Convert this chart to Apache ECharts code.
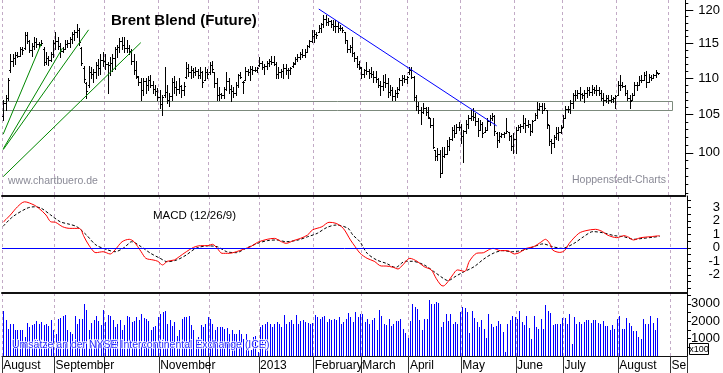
<!DOCTYPE html>
<html><head><meta charset="utf-8">
<script src="https://cdn.jsdelivr.net/npm/echarts@6/dist/echarts.min.js"></script>
<style>html,body{margin:0;padding:0;background:#fff}#c{width:723px;height:373px}</style>
</head><body><div id="c"></div>
<script>
// ---------- DATA ----------
const monthNames = ['2012-08','2012-09','2012-10','2012-11','2012-12','2013-01','2013-02','2013-03','2013-04','2013-05','2013-06','2013-07','2013-08','2013-09'];
const monthLabels = ['August','September','','November','','2013','February','March','April','May','June','July','August','Se'];
const monthBarCounts = [22,21,23,21,21,23,20,20,22,23,20,23,22,7];

const highs = [
107.0,107.7,110.0,113.4,113.4,113.7,113.7,114.4,114.5,116.7,
116.6,115.5,115.1,115.9,115.8,115.2,115.5,114.4,113.8,113.1,
113.7,115.5,116.6,115.9,115.1,114.5,115.5,115.5,115.9,116.7,
117.0,117.9,117.3,114.5,111.7,109.5,111.7,111.6,111.3,112.3,
112.7,113.4,113.7,113.4,112.3,113.0,113.4,114.5,114.8,115.8,
115.9,115.9,115.5,114.8,114.1,113.4,112.4,110.3,110.0,110.0,
110.0,110.3,110.4,109.6,109.1,108.6,108.3,107.7,111.6,109.1,
108.0,110.0,110.3,109.6,110.0,109.1,109.4,112.3,112.0,111.7,
111.5,111.6,111.3,111.6,111.0,111.6,111.3,112.3,112.4,110.9,
110.0,108.7,107.9,108.7,110.9,110.0,109.1,108.7,109.4,110.6,
110.9,109.6,111.6,111.3,111.7,111.7,111.6,111.6,113.0,112.4,
112.0,112.4,112.7,113.1,113.1,112.3,111.6,111.3,112.0,112.0,
111.5,111.6,112.3,113.0,113.4,113.8,114.1,114.1,114.8,115.5,
117.0,117.0,116.7,117.7,118.0,119.2,119.2,118.8,118.5,118.5,
118.5,118.2,117.7,117.4,116.7,115.5,114.8,115.9,113.7,113.1,
112.4,111.6,111.3,112.3,111.3,111.6,111.0,111.0,110.0,109.6,
110.4,110.6,110.0,109.1,108.8,108.3,108.7,110.0,110.4,110.4,
110.3,111.6,111.6,110.3,107.7,106.7,106.0,106.6,106.0,106.0,
104.6,104.6,100.4,100.6,100.4,100.7,100.7,101.6,102.0,103.4,
103.6,103.8,104.0,103.8,102.9,104.3,104.9,105.6,105.9,105.2,
104.5,104.3,104.0,103.4,104.6,104.9,105.2,104.9,102.7,102.7,
102.5,102.7,104.5,102.7,102.3,102.5,103.4,103.6,103.8,104.9,
104.6,104.3,103.8,104.3,105.2,106.7,106.6,106.6,106.6,105.6,
103.6,101.8,102.3,103.4,103.4,103.6,104.9,106.1,106.1,107.0,
108.0,108.3,108.3,108.8,108.0,108.3,108.7,108.7,109.1,108.8,
109.1,108.7,108.3,107.9,107.7,107.7,107.7,107.4,107.7,109.6,
110.4,109.4,109.1,108.3,107.7,107.9,109.4,109.4,110.3,110.4,
110.9,111.0,110.6,110.4,110.6,111.1,110.7];

const lows = [
104.3,105.6,107.0,110.9,111.7,112.0,113.0,113.1,113.4,114.1,
115.1,113.7,113.1,114.1,114.4,114.5,114.8,111.8,112.0,111.8,
112.4,113.0,114.1,114.1,113.0,113.7,114.1,114.4,114.5,115.1,
115.5,115.9,114.8,111.8,109.4,107.3,108.8,110.0,109.4,110.0,
110.4,110.6,111.7,111.3,107.9,110.4,111.0,111.3,113.0,113.7,
114.1,113.7,113.7,113.4,112.0,110.6,110.0,109.0,107.0,107.7,
108.0,108.3,108.7,108.0,107.7,107.0,105.9,104.9,107.4,106.6,
106.1,107.0,108.0,107.7,107.9,107.4,107.7,110.0,110.3,110.0,
110.1,110.4,110.0,110.0,108.7,109.7,110.0,110.6,110.9,108.8,
107.0,107.0,107.3,107.3,108.3,107.9,106.8,107.4,107.7,108.8,
110.0,108.0,109.7,110.4,109.7,110.6,111.0,110.8,111.7,111.3,
110.6,111.3,111.7,112.0,111.8,110.0,110.0,110.2,110.0,110.6,
110.0,110.6,111.6,112.0,112.4,112.7,113.0,113.0,113.7,114.4,
115.2,115.2,115.8,116.6,116.7,117.4,117.7,117.7,117.4,117.0,
116.6,116.6,117.0,116.7,115.1,113.7,113.7,113.1,112.4,111.6,
111.3,110.0,110.2,110.6,110.0,110.2,109.4,109.4,108.7,107.7,
108.3,108.8,107.4,107.7,107.0,107.0,107.4,108.3,109.1,109.4,
109.3,110.6,110.0,107.0,105.6,105.2,103.8,105.2,104.9,104.5,
103.3,100.6,99.1,99.1,96.9,97.4,99.4,99.8,100.4,101.6,
102.0,102.5,102.9,101.2,98.8,102.5,103.2,104.3,104.3,103.6,
102.2,102.9,102.0,102.7,102.9,103.6,104.3,102.3,100.8,101.4,
102.0,102.0,102.5,101.6,100.4,100.0,100.0,102.9,102.7,103.2,
102.7,103.4,102.3,102.7,104.3,104.6,105.6,105.2,105.6,103.2,
101.0,100.0,100.8,101.8,101.6,102.5,103.4,104.6,105.4,105.2,
105.9,107.0,107.3,107.0,107.3,106.7,107.4,107.7,107.7,107.9,
107.7,107.7,107.0,106.3,106.7,106.6,106.7,106.7,105.9,107.7,
108.3,108.7,107.7,107.0,105.9,107.0,107.7,108.3,109.1,109.4,
109.7,108.8,109.4,109.7,110.0,110.2,110.6];

const opens = [
104.8,106.6,107.3,111.2,112.5,112.9,113.3,113.2,114.1,114.3,
116.2,115.4,114.0,114.6,115.2,114.9,114.9,114.2,112.3,112.8,
112.6,113.4,115.1,115.3,114.6,113.9,114.2,114.9,115.1,115.6,
116.4,116.7,116.9,114.3,111.5,109.3,109.0,110.9,110.6,110.8,
111.8,111.4,112.6,112.4,112.0,111.8,112.2,112.9,114.1,114.5,
115.3,114.7,114.3,114.3,113.9,112.4,111.2,110.2,109.4,108.3,
109.6,109.1,109.7,109.0,108.5,108.2,107.4,106.4,107.6,108.1,
107.0,107.5,109.4,108.7,108.5,108.9,108.3,110.2,111.4,110.9,
111.1,110.8,111.0,110.5,110.9,109.8,110.8,110.8,111.8,110.8,
109.3,107.7,107.8,107.6,108.5,109.6,108.5,108.2,107.9,109.0,
110.5,109.4,109.8,111.0,110.8,111.3,111.2,111.2,111.9,112.2,
111.6,111.7,112.1,112.4,112.3,112.0,110.6,110.9,111.0,111.5,
111.1,111.2,111.7,112.2,112.7,113.0,113.5,113.3,113.8,114.6,
115.3,116.1,116.4,116.7,117.3,117.8,118.6,118.2,118.3,117.9,
117.5,117.6,117.2,117.3,116.6,115.5,114.2,114.4,113.6,112.8,
112.0,111.5,110.6,111.1,111.0,110.7,110.6,110.2,109.9,109.1,
108.9,109.5,109.3,108.1,108.3,107.5,108.0,108.5,109.7,110.0,
109.9,110.8,111.1,110.2,107.4,106.1,105.6,105.3,105.9,105.3,
104.6,103.6,100.3,99.6,99.9,97.5,99.6,99.9,100.9,101.8,
102.9,102.6,103.4,103.3,102.2,102.8,103.8,104.5,104.8,104.7,
104.2,103.0,103.7,102.7,103.0,104.2,104.5,104.8,102.6,101.6,
102.1,102.4,102.5,102.7,102.2,100.9,101.8,103.0,103.3,103.5,
103.9,103.6,103.7,102.8,104.3,105.0,105.8,106.2,105.6,105.6,
103.6,101.5,101.3,102.0,102.5,102.7,103.4,104.6,105.8,105.8,
106.6,107.7,107.6,107.9,107.8,107.7,108.0,108.3,108.1,108.5,
108.4,108.4,108.0,107.3,107.0,107.2,107.0,107.1,107.2,107.7,
109.0,109.1,108.9,108.0,107.3,107.0,107.7,109.0,109.1,109.8,
109.8,110.4,109.4,110.1,110.0,110.5,110.7];

const closes = [
106.6,107.3,109.8,112.5,112.9,113.3,113.2,114.1,114.0,116.2,
115.4,114.0,114.6,115.2,114.9,114.9,115.0,112.3,112.8,112.6,
113.4,115.1,115.3,114.6,113.9,114.2,114.9,115.1,115.6,116.4,
116.7,116.9,115.2,112.1,109.9,108.2,110.9,110.6,110.8,111.8,
111.4,112.6,112.4,112.0,111.8,112.2,112.9,114.1,114.5,115.3,
114.7,114.3,114.3,113.9,112.4,111.2,110.3,109.4,108.3,109.6,
109.1,109.7,109.0,108.5,108.2,107.4,106.4,107.4,108.1,107.0,
107.5,109.4,108.7,108.5,108.9,108.3,108.9,111.4,110.9,111.1,
110.8,111.0,110.5,110.9,109.5,110.8,110.6,111.8,111.3,109.3,
107.7,107.8,107.6,108.5,109.6,108.5,108.2,107.9,109.0,110.5,
110.2,109.4,111.0,110.8,111.3,111.2,111.2,111.4,112.2,111.6,
111.7,112.1,112.4,112.3,112.0,110.6,110.9,111.0,111.5,111.1,
111.2,111.4,112.0,112.7,113.0,113.5,113.3,113.8,114.6,115.3,
116.1,116.4,116.2,117.3,117.8,118.6,118.2,118.3,117.9,117.5,
117.6,117.2,117.3,116.9,115.5,114.2,114.4,113.6,112.8,112.0,
111.6,110.6,111.1,111.0,110.7,110.6,110.2,109.9,109.1,108.9,
109.5,109.3,108.1,108.3,107.5,108.0,107.9,109.7,110.0,109.9,
110.1,111.1,110.2,107.4,106.1,105.6,105.3,105.9,105.3,104.7,
103.6,100.8,99.6,99.9,97.5,99.6,99.9,100.9,101.8,102.9,
102.6,103.4,103.3,102.2,102.8,103.8,104.5,104.8,104.7,104.2,
103.0,103.7,102.6,103.0,104.2,104.5,104.8,102.8,101.6,102.1,
102.4,102.5,102.8,102.2,100.9,101.8,103.0,103.3,103.5,103.9,
103.6,103.7,102.8,104.1,105.0,105.8,106.2,105.6,105.9,103.8,
101.5,101.3,102.0,102.5,102.7,103.2,104.6,105.8,105.8,106.6,
107.7,107.6,107.9,107.8,107.7,108.0,108.3,108.1,108.5,108.4,
108.4,108.0,107.3,107.0,107.2,107.0,107.1,107.2,107.5,109.0,
109.1,108.9,108.0,107.3,106.9,107.7,109.0,109.0,109.8,109.8,
110.4,109.4,110.1,110.0,110.5,110.8,110.7];

// volume in units of 100 contracts
const volumes = [
2590,2050,1570,1860,1820,1475,1475,1475,1475,1090,
1900,1670,1760,1860,1990,1860,1950,1760,1860,1700,
2050,1510,1280,2150,2200,2280,2340,1475,1380,1280,
2280,1860,2150,2150,2970,2620,1475,1900,2050,2280,
2010,1780,2620,1950,2340,2280,2090,1670,1860,2090,
1475,1760,2280,2240,1950,2010,2240,2090,2430,2200,
2150,1990,1475,1670,1700,2240,2430,2530,2590,1860,
2090,1700,1950,1130,1475,2150,2240,2240,2280,1760,
1475,1000,1090,1760,1670,1860,2240,2150,1860,1475,
1670,1670,1670,1570,1630,1280,1510,1280,1280,1510,
1280,1000,1280,520,330,1090,1130,230,1670,1760,
1860,1950,1860,1670,1860,1950,1860,1670,2340,1860,
1950,2050,1860,2340,1860,2010,2050,1950,1900,1860,
1900,2340,2240,2150,2240,2280,1950,2150,2090,2150,
2050,2240,1860,1950,2150,2470,2240,1950,2510,2240,
2430,2400,1950,2150,1860,2050,2200,1475,2620,2280,
1820,1760,2150,1700,1820,2010,2010,2150,1570,1300,
1050,2010,2970,2820,2680,2090,1475,2150,2150,3240,
3010,2970,3080,3050,1670,1950,2400,2010,2400,1860,
1950,1860,2530,2820,2780,2530,1320,2590,2200,1950,
1670,2050,1570,1050,2430,1860,1670,1700,2010,1820,
1380,230,1860,2090,2280,2240,2150,2590,1950,1760,
2280,1610,1000,2280,1670,1570,2150,1570,2910,2590,
2470,1760,1860,1860,1860,2200,2200,1860,2400,710,
2240,1820,1950,1860,1950,2090,2090,1900,2050,2090,
1900,1860,2010,1700,1700,1475,1760,1570,2150,2280,
1570,1570,2180,1900,1700,1440,1440,1090,1000,2110,
1820,1820,2300,1900,1510,2180,null];

// MACD (12/26/9): [bar index, value]
const macdPoints = [[0,1.9],[3,2.43],[6,3.04],[9,3.41],[13,3.17],[15,2.93],[18,2.43],[20,1.93],[22,1.89],[25,1.56],[28,1.44],[32,1.44],[34,0.82],[36,0.2],[39,-0.36],[42,-0.29],[45,-0.46],[47,-0.16],[50,0.45],[53,0.63],[55,0.45],[58,-0.29],[60,-0.78],[63,-0.9],[65,-1.0],[67,-1.27],[69,-1.0],[72,-0.9],[74,-0.66],[77,-0.29],[80,0.03],[83,0.16],[86,0.16],[88,0.26],[90,-0.04],[92,-0.41],[95,-0.41],[98,-0.29],[101,-0.11],[104,0.08],[107,0.41],[111,0.63],[114,0.7],[117,0.45],[119,0.33],[122,0.53],[125,0.7],[128,0.95],[130,1.32],[134,1.56],[137,1.89],[140,1.81],[143,1.44],[146,0.58],[148,0.08],[150,-0.4],[153,-0.78],[156,-1.0],[159,-1.35],[161,-1.35],[164,-1.45],[166,-1.57],[168,-1.27],[171,-0.78],[174,-1.0],[177,-1.4],[180,-1.64],[182,-2.26],[184,-2.76],[185,-2.83],[187,-2.51],[189,-2.01],[191,-1.64],[194,-1.75],[196,-1.0],[199,-0.41],[202,-0.36],[204,-0.16],[206,-0.04],[209,-0.21],[212,-0.21],[215,-0.46],[217,-0.36],[220,-0.04],[223,0.08],[226,0.41],[228,0.63],[230,0.26],[231,-0.16],[234,-0.34],[236,-0.21],[238,0.33],[242,1.07],[245,1.27],[249,1.37],[252,1.2],[254,0.95],[258,0.75],[261,0.9],[263,0.78],[265,0.58],[268,0.75],[272,0.82],[276,0.9]];
const signalPoints = [[0,1.6],[4,2.3],[10,2.93],[13,3.04],[16,2.93],[20,2.43],[24,1.93],[28,1.74],[31,1.56],[35,0.95],[39,0.21],[44,-0.16],[47,-0.29],[51,0.03],[54,0.45],[58,0.08],[62,-0.41],[66,-0.78],[69,-1.03],[73,-0.9],[77,-0.53],[81,-0.04],[86,0.14],[90,0.08],[94,-0.29],[98,-0.36],[102,-0.04],[107,0.33],[111,0.53],[115,0.58],[119,0.45],[124,0.58],[128,0.82],[132,1.07],[136,1.5],[140,1.69],[145,1.44],[147,0.95],[150,0.45],[153,-0.4],[157,-0.9],[161,-1.15],[165,-1.45],[169,-1.0],[172,-1.0],[177,-1.27],[181,-1.75],[185,-2.26],[187,-2.43],[190,-2.14],[193,-1.84],[198,-1.4],[202,-0.84],[206,-0.41],[210,-0.21],[214,-0.29],[219,-0.16],[223,0.08],[227,0.29],[231,0.08],[235,-0.04],[240,0.33],[244,0.82],[248,1.2],[252,1.12],[257,0.9],[261,0.82],[265,0.63],[269,0.7],[273,0.78],[276,0.85]];

// drawn lines: [bar index, price]
const fanLine1 = [[0,102.4],[16,114.9]];
const fanLine2 = [[0,100.5],[25,114.3]];
const fanLine3 = [[0,100.4],[36,117.0]];
const fanLine4 = [[0,97.0],[58,115.1]];
const trendLine = [[133,120.15],[208,103.5]];
const zoneBox = [[282,105.6,106.8]]; // [end index, low, high]

const priceLabelTicks = [100,105,110,115,120];
const priceMinorTicks = [95,96,97,98,99,100,101,102,103,104,105,106,107,108,109,110,111,112,113,114,115,116,117,118,119,120,121];
const macdLabelTicks = [-2,-1,0,1,2,3];
const macdMinorTicks = [-3,-2.5,-2,-1.5,-1,-0.5,0,0.5,1,1.5,2,2.5,3,3.5];
const volLabelTicks = [1000,2000,3000];
const volMinorTicks = [500,1000,1500,2000,2500,3000,3500];

// ---------- BUILD ----------
const FONT = '"Liberation Sans", Arial, Helvetica, sans-serif';
const categories = [];
const monthStartLabel = {};
monthBarCounts.forEach((n, m) => {
  monthStartLabel[categories.length] = monthLabels[m];
  for (let k = 0; k < n; k++) categories.push(monthNames[m] + '#' + (k + 1));
});
const isStart = (i) => Object.prototype.hasOwnProperty.call(monthStartLabel, i);
const hasLabel = (i) => isStart(i) && monthStartLabel[i] !== '';

const ohlc = highs.map((h, i) => [i, opens[i], h, lows[i], closes[i]]);
const volData = volumes.map((v, i) => [i, v]);

function mkX(gi, showLabels) {
  return {
    type: 'category', gridIndex: gi, data: categories, boundaryGap: true,
    axisLine: { show: true, onZero: false, lineStyle: { color: '#111', width: gi < 2 ? 2 : 1 } },
    axisTick: { show: showLabels, interval: (i) => isStart(i), length: 17, lineStyle: { color: '#333' } },
    axisLabel: { show: showLabels, interval: (i) => hasLabel(i), formatter: (v, i) => monthStartLabel[i] || '',
      align: 'left', margin: 4, fontSize: 12, color: '#000', fontFamily: FONT },
    splitLine: { show: true, interval: (i) => isStart(i), lineStyle: { color: '#c2aac6', type: [3, 3], width: 1 } }
  };
}

const plain = (v) => String(v);
const priceMin = 94.63, priceMax = 121.54;
const yAxes = [
  { gridIndex: 0, type: 'log', logBase: 10, min: priceMin, max: priceMax, position: 'right',
    axisLine: { show: true, lineStyle: { color: '#000' } },
    axisTick: { show: true, customValues: priceMinorTicks, length: 3, lineStyle: { color: '#000' } },
    axisLabel: { show: false }, splitLine: { show: false } },
  { gridIndex: 0, type: 'log', logBase: 10, min: priceMin, max: priceMax, position: 'right',
    axisLine: { show: false },
    axisTick: { show: true, customValues: priceLabelTicks, length: 8, lineStyle: { color: '#000' } },
    axisLabel: { customValues: priceLabelTicks, formatter: plain, margin: 13, fontSize: 13, color: '#000', fontFamily: FONT },
    splitLine: { show: false } },
  { gridIndex: 1, type: 'value', min: -3.35, max: 3.84, position: 'right',
    axisLine: { show: true, lineStyle: { color: '#000' } },
    axisTick: { show: true, customValues: macdMinorTicks, length: 4, lineStyle: { color: '#000' } },
    axisLabel: { customValues: macdLabelTicks, formatter: plain, align: 'right', margin: 33, fontSize: 13, color: '#000', fontFamily: FONT },
    splitLine: { show: false } },
  { gridIndex: 2, type: 'value', min: 0, max: 3620, position: 'right',
    axisLine: { show: true, lineStyle: { color: '#000' } },
    axisTick: { show: true, customValues: volMinorTicks, length: 4, lineStyle: { color: '#000' } },
    axisLabel: { customValues: volLabelTicks, formatter: plain, align: 'right', margin: 33, fontSize: 13, color: '#000', fontFamily: FONT },
    splitLine: { show: false } }
];

function renderOHLC(params, api) {
  const i = api.value(0);
  const pO = api.coord([i, api.value(1)]);
  const pH = api.coord([i, api.value(2)]);
  const pL = api.coord([i, api.value(3)]);
  const pC = api.coord([i, api.value(4)]);
  const x = Math.round(pH[0]) + 0.5;
  const yo = Math.round(pO[1]) + 0.5, yc = Math.round(pC[1]) + 0.5;
  const st = { stroke: '#000', lineWidth: 1 };
  return { type: 'group', children: [
    { type: 'line', shape: { x1: x, y1: Math.round(pH[1]), x2: x, y2: Math.round(pL[1]) + 1 }, style: st },
    { type: 'line', shape: { x1: x - 1.5, y1: yo, x2: x, y2: yo }, style: st },
    { type: 'line', shape: { x1: x, y1: yc, x2: x + 1.5, y2: yc }, style: st }
  ]};
}

function renderVolume(params, api) {
  const v = api.value(1);
  if (v == null || isNaN(v)) return null;
  const p0 = api.coord([api.value(0), 0]);
  const p1 = api.coord([api.value(0), v]);
  const x = Math.round(p1[0]);
  const y = Math.round(p1[1]);
  return { type: 'rect', shape: { x: x, y: y, width: 1, height: Math.round(p0[1]) - y },
    style: { fill: '#0000ff' } };
}

function renderZone(params, api) {
  const pr = api.coord([api.value(0), api.value(2)]);
  const pb = api.coord([api.value(0), api.value(1)]);
  const xr = Math.round(pr[0]) + 0.5;
  const yt = Math.round(pr[1]) + 0.5, yb = Math.round(pb[1]) + 0.5;
  const left = params.coordSys.x;
  return { type: 'polyline', shape: { points: [[left, yt], [xr, yt], [xr, yb], [left, yb]] },
    style: { stroke: '#7c8a7c', fill: null, lineWidth: 1 } };
}

const lineOf = (data, color) => ({
  type: 'line', xAxisIndex: 0, yAxisIndex: 0, data: data, showSymbol: false, symbol: 'none',
  lineStyle: { color: color, width: 1 }, silent: true, z: 4, clip: true
});

const option = {
  animation: false,
  backgroundColor: '#ffffff',
  grid: [
    { left: 2, right: 36, top: 0, height: 196 },
    { left: 2, right: 36, top: 196, height: 97 },
    { left: 2, right: 36, top: 293, height: 63 }
  ],
  xAxis: [mkX(0, false), mkX(1, false), mkX(2, true)],
  yAxis: yAxes,
  series: [
    { type: 'custom', xAxisIndex: 0, yAxisIndex: 0, data: zoneBox, renderItem: renderZone,
      encode: { x: 0, y: [1, 2] }, silent: true, z: 2, clip: false },
    lineOf(fanLine1, '#008800'),
    lineOf(fanLine2, '#008800'),
    lineOf(fanLine3, '#008800'),
    lineOf(fanLine4, '#008800'),
    { type: 'custom', xAxisIndex: 0, yAxisIndex: 0, data: ohlc, renderItem: renderOHLC,
      encode: { x: 0, y: [1, 2, 3, 4] }, silent: true, z: 3 },
    lineOf(trendLine, '#0000ff'),
    { type: 'line', xAxisIndex: 1, yAxisIndex: 2, data: signalPoints, showSymbol: false, symbol: 'none',
      smooth: 0.3, lineStyle: { color: '#000', width: 1, type: [3, 2] }, silent: true, z: 3 },
    { type: 'line', xAxisIndex: 1, yAxisIndex: 2, data: macdPoints, showSymbol: false, symbol: 'none',
      smooth: 0.3, lineStyle: { color: '#ff0000', width: 1 }, silent: true, z: 4,
      markLine: { silent: true, symbol: 'none', label: { show: false },
        lineStyle: { color: '#0000ff', width: 1, type: 'solid' }, data: [{ yAxis: 0 }] } },
    { type: 'custom', xAxisIndex: 2, yAxisIndex: 3, data: volData, renderItem: renderVolume,
      encode: { x: 0, y: 1 }, silent: true, z: 2 }
  ],
  graphic: [
    { type: 'text', x: 111, y: 21, z: 100, style: { text: 'Brent Blend (Future)', font: 'bold 15px ' + FONT, fill: '#000', verticalAlign: 'middle' } },
    { type: 'text', x: 8, y: 181, z: 100, style: { text: 'www.chartbuero.de', font: '10.5px ' + FONT, fill: '#8a8a96', verticalAlign: 'middle' } },
    { type: 'text', x: 572, y: 180.5, z: 100, style: { text: 'Hoppenstedt-Charts', font: '10.5px ' + FONT, fill: '#8a8a96', verticalAlign: 'middle' } },
    { type: 'text', x: 153, y: 216, z: 100, style: { text: 'MACD (12/26/9)', font: '11.5px ' + FONT, fill: '#000', verticalAlign: 'middle' } },
    { type: 'text', x: 12, y: 345.5, z: 100, style: { text: 'Umsätze an der NYSE Intercontinental Exchange (ICE)', font: '10.5px ' + FONT, fill: '#2a2aff', stroke: '#ffffff', lineWidth: 1.6, verticalAlign: 'middle' } },
    { type: 'rect', z: 100, shape: { x: 689.5, y: 343.5, width: 19, height: 11 }, style: { fill: '#fff', stroke: '#000', lineWidth: 1 } },
    { type: 'text', x: 699, y: 349.5, z: 101, style: { text: 'x100', font: '9px ' + FONT, fill: '#000', align: 'center', verticalAlign: 'middle' } }
  ]
};

const chart = echarts.init(document.getElementById('c'), null, { renderer: 'canvas', width: 723, height: 373 });
chart.setOption(option);
</script></body></html>
